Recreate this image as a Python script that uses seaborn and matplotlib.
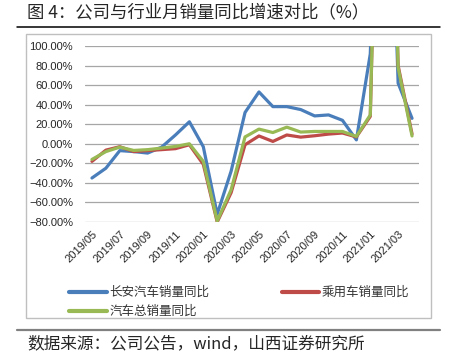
import matplotlib
matplotlib.use("Agg")
import matplotlib.pyplot as plt
import matplotlib.patches as patches
import matplotlib.lines as mlines
from matplotlib.ticker import PercentFormatter
import seaborn as sns
import pandas as pd

# months 2019/05 .. 2021/04
months = ['2019/05', '2019/06', '2019/07', '2019/08', '2019/09', '2019/10',
          '2019/11', '2019/12', '2020/01', '2020/02', '2020/03', '2020/04',
          '2020/05', '2020/06', '2020/07', '2020/08', '2020/09', '2020/10',
          '2020/11', '2020/12', '2021/01', '2021/02', '2021/03', '2021/04']

changan = [-35, -25, -7, -8, -9.5, -3.5, 9, 22.5, -3, -72, -28, 32,
           53, 38, 38, 35, 28.5, 29.5, 24, 4, 92, 500, 62, 26]
passenger = [-18, -6.5, -3, -8, -7, -6, -5, -1, -21, -80, -50, -1,
             8, 2.4, 9, 6.8, 8.2, 9.9, 11, 7, 28, 600, 80, 10]
total = [-16, -8, -3.4, -6.8, -6, -4.4, -2.7, 0, -18, -79, -47, 7,
         15, 11.5, 17, 12, 12.6, 12.6, 12.6, 7.5, 29.5, 600, 78, 8]

names = ['长安汽车销量同比', '乘用车销量同比', '汽车总销量同比']
colors = ['#4A7EBB', '#BE4B48', '#98B954']
yticks = [-80, -60, -40, -20, 0, 20, 40, 60, 80, 100]

sns.set_style("white")
plt.rcParams['font.family'] = ['Liberation Sans', 'Noto Sans CJK SC', 'DejaVu Sans']

fig = plt.figure(figsize=(4.5, 3.57), dpi=100)
W, H = 450, 357

def fx(x):
    return x / W

def fy(y):
    return 1 - y / H

ax = fig.add_axes([fx(85), fy(222), fx(419) - fx(85), fy(46) - fy(222)])

idx = list(range(len(months)))
for vals, name, c in zip([changan, passenger, total], names, colors):
    df = pd.DataFrame({'i': idx, 'v': vals})
    sns.lineplot(data=df, x='i', y='v', color=c, linewidth=2.3, ax=ax,
                 label=name, legend=False)

ax.set_xlim(-0.5, len(months) - 0.5)
ax.set_ylim(-80, 100)
ax.set_yticks(yticks)
ax.yaxis.set_major_formatter(PercentFormatter(decimals=2))
ax.set_xticks(idx[::2])
ax.set_xticklabels(months[::2], rotation=45, ha='right', rotation_mode='anchor')
ax.set_xlabel('')
ax.set_ylabel('')
ax.grid(axis='y', color='#A6A6A6', linewidth=0.9)
ax.grid(axis='x', visible=False)
ax.set_axisbelow(True)
for s in ax.spines.values():
    s.set_visible(False)
ax.tick_params(axis='y', length=0, pad=8.5, labelsize=8)
ax.tick_params(axis='x', length=0, pad=5, labelsize=8)

# legend: filled column by column, so order gives rows blue/red then green
handles = [mlines.Line2D([], [], color=c, linewidth=3) for c in colors]
order = [0, 2, 1]
leg = fig.legend([handles[i] for i in order], [names[i] for i in order], ncol=2,
                 loc='upper left', bbox_to_anchor=(fx(58), fy(275)), frameon=False,
                 prop={'family': 'Noto Sans CJK SC', 'size': 9},
                 handlelength=3.0, handletextpad=0.2, columnspacing=5.8,
                 labelspacing=0.45)
for t in leg.get_texts():
    t.set_color('#333333')

# chart frame and separator lines
fig.patches.append(patches.Rectangle((fx(26), fy(318)), fx(431) - fx(26), fy(34) - fy(318),
                                     transform=fig.transFigure, fill=False,
                                     edgecolor='#BFBFBF', linewidth=1))
fig.lines.append(mlines.Line2D([fx(17), fx(440)], [fy(26.5), fy(26.5)],
                               transform=fig.transFigure, color='black', linewidth=1.1))
fig.lines.append(mlines.Line2D([fx(17), fx(440)], [fy(329.5), fy(329.5)],
                               transform=fig.transFigure, color='#808080', linewidth=1.6))

fig.text(fx(27), fy(12), '图 4：公司与行业月销量同比增速对比（%）', fontsize=12.5,
         family=['Noto Sans CJK SC'], va='center', ha='left')
fig.text(fx(27), fy(344), '数据来源：公司公告，wind，山西证券研究所', fontsize=12,
         family=['Noto Sans CJK SC'], va='center', ha='left')

fig.savefig('out.png', dpi=100)
